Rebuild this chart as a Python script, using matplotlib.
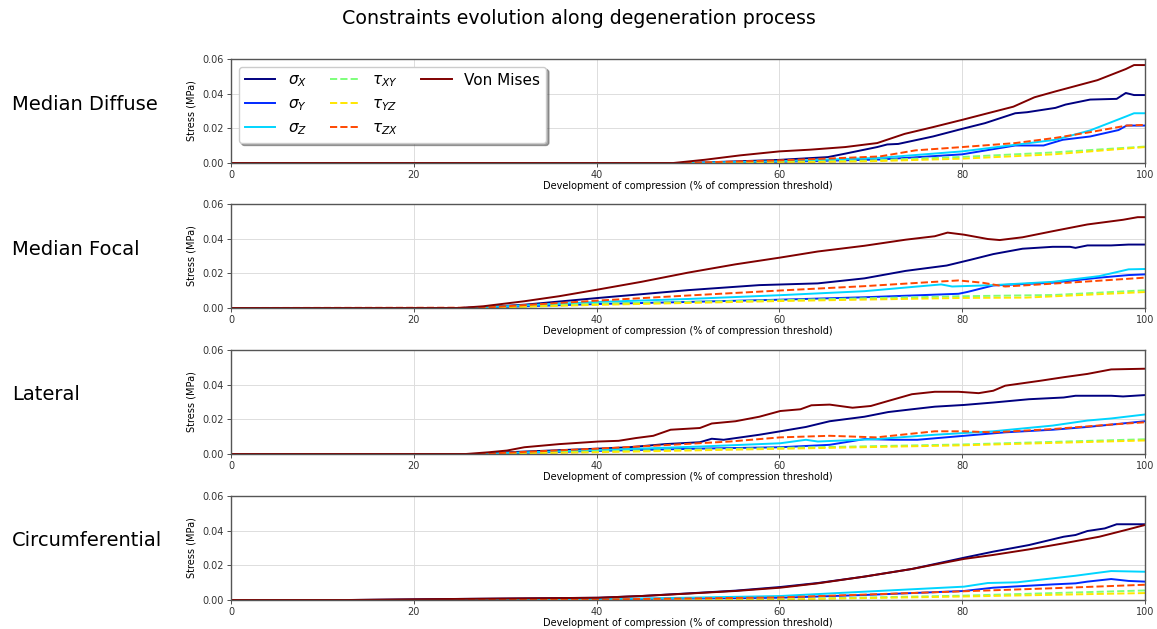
import matplotlib
matplotlib.use("Agg")
import matplotlib.pyplot as plt
from matplotlib.lines import Line2D
import numpy as np

# (x, stress) points, x in % of compression threshold
diffuse_sx = [(0, 0), (50, 0), (60, 0.0018), (65.3, 0.0034), (67.2, 0.0054), (70.7, 0.0092), (71.8, 0.0107),
              (73, 0.011), (76.8, 0.0153), (80, 0.0197), (82.5, 0.023), (85.8, 0.0287), (87.1, 0.0293),
              (90.2, 0.0318), (91.3, 0.0337), (94, 0.0366), (96.9, 0.037), (97.9, 0.0404), (98.8, 0.0392), (100, 0.0392)]
diffuse_sy = [(0, 0), (50, 0), (60, 0.0007), (71, 0.002), (80, 0.005), (85.8, 0.0101), (88.9, 0.0101),
              (91, 0.0134), (94, 0.0153), (97.1, 0.019), (98, 0.0216), (100, 0.0216)]
diffuse_sz = [(0, 0), (50, 0), (60, 0.001), (71, 0.003), (80, 0.0067), (85.8, 0.0105), (90.2, 0.0134),
              (94, 0.0188), (97.9, 0.0268), (98.8, 0.0287), (100, 0.0287)]
diffuse_txy = [(0, 0), (50, 0), (60, 0.0005), (70, 0.0015), (80, 0.0035), (90, 0.0061), (100, 0.0095)]
diffuse_tyz = [(0, 0), (50, 0), (60, 0.0003), (70, 0.001), (80, 0.0025), (90, 0.005), (100, 0.0092)]
diffuse_tzx = [(0, 0), (49, 0), (60, 0.0015), (65, 0.0025), (71, 0.0038), (74.9, 0.0073), (80, 0.0092),
               (85.8, 0.0115), (90.2, 0.0145), (94, 0.0178), (98, 0.0216), (100, 0.022)]
diffuse_vm = [(0, 0), (48.4, 0), (51.9, 0.0019), (55.7, 0.0044), (60, 0.0067), (63.4, 0.0077), (67.2, 0.0092),
              (70.7, 0.0115), (73.7, 0.0168), (76.8, 0.0207), (80, 0.0249), (82.5, 0.0283), (85.6, 0.0325),
              (87.9, 0.0379), (90.2, 0.0413), (94.8, 0.0478), (97.9, 0.0542), (98.8, 0.0565), (100, 0.0565)]

focal_sx = [(0, 0), (25, 0), (27.6, 0.0005), (32.1, 0.0019), (40.2, 0.0058), (50, 0.0103), (57.8, 0.0132),
            (64.2, 0.0142), (69.3, 0.0171), (73.8, 0.0214), (78.3, 0.0245), (80.9, 0.0278), (83.4, 0.0311),
            (86.6, 0.0342), (89.9, 0.0353), (91.8, 0.0353), (92.4, 0.0347), (93.7, 0.0361), (96.3, 0.0361),
            (98.2, 0.0366), (100, 0.0366)]
focal_sy = [(0, 0), (26, 0), (40.2, 0.0023), (50, 0.0035), (60.1, 0.0048), (69.3, 0.0062), (79.6, 0.0082),
            (80.6, 0.0093), (83.4, 0.013), (89.9, 0.0146), (95, 0.0175), (98.2, 0.019), (100, 0.0194)]
focal_sz = [(0, 0), (26, 0), (40.2, 0.0035), (50, 0.0052), (60.1, 0.0074), (69.3, 0.0097), (77.7, 0.0136),
            (78.9, 0.0124), (83.4, 0.0132), (89.9, 0.0151), (95, 0.0184), (98.2, 0.0223), (100, 0.0225)]
focal_txy = [(0, 0), (27, 0), (40, 0.0025), (60, 0.0045), (80, 0.0068), (90, 0.0075), (100, 0.0102)]
focal_tyz = [(0, 0), (27, 0), (40, 0.0018), (60, 0.004), (80, 0.0058), (87, 0.006), (100, 0.0092)]
focal_tzx = [(0, 0), (27.6, 0.0002), (40.2, 0.0043), (50, 0.0072), (60.1, 0.0101), (69.3, 0.0126), (77, 0.0151),
             (79.6, 0.0159), (82.2, 0.0146), (84.7, 0.0124), (87.3, 0.0132), (93.1, 0.0151), (100, 0.0175)]
focal_vm = [(0, 0), (25, 0), (27.6, 0.001), (32.1, 0.0039), (35.9, 0.0068), (40.2, 0.0107), (44.9, 0.0151),
            (50, 0.0204), (55.2, 0.0252), (60.1, 0.0291), (64.2, 0.0326), (69.3, 0.0359), (73.8, 0.0394),
            (77, 0.0414), (78.4, 0.0435), (80.2, 0.0423), (82.8, 0.0398), (84.1, 0.0392), (86.6, 0.0408),
            (89.9, 0.0443), (93.7, 0.0482), (97.6, 0.0509), (99.2, 0.0524), (100, 0.0524)]

lateral_sx = [(0, 0), (27, 0), (30.2, 0.001), (40.2, 0.0031), (43.6, 0.0039), (47.5, 0.0057), (51.3, 0.0068),
              (52.6, 0.0088), (53.9, 0.0082), (57.8, 0.0111), (60.1, 0.0131), (62.9, 0.0156), (65.5, 0.0189),
              (69.3, 0.0215), (71.9, 0.0242), (74.5, 0.0258), (77, 0.0273), (80.2, 0.0283), (83.4, 0.0297),
              (87.3, 0.0316), (91.1, 0.0326), (92.4, 0.0336), (96.3, 0.0336), (97.6, 0.0332), (100, 0.034)]
lateral_sy = [(0, 0), (27, 0), (40.2, 0.0018), (51.3, 0.0031), (60.1, 0.0039), (65.5, 0.0053), (69.3, 0.0086),
              (72.5, 0.0082), (75.1, 0.0082), (80.2, 0.0105), (84.7, 0.0125), (89.9, 0.014), (93.7, 0.0156),
              (100, 0.0189)]
lateral_sz = [(0, 0), (27, 0), (40.2, 0.0023), (51.3, 0.0043), (60.1, 0.0062), (62.9, 0.0082), (64.2, 0.0072),
              (70.6, 0.0086), (77, 0.0111), (83.4, 0.0131), (89.9, 0.0164), (93.7, 0.0193), (96.3, 0.0205),
              (100, 0.0228)]
lateral_txy = [(0, 0), (27, 0), (40, 0.0015), (60, 0.0035), (80, 0.0055), (100, 0.0085)]
lateral_tyz = [(0, 0), (27, 0), (40, 0.001), (60, 0.003), (80, 0.005), (100, 0.0078)]
lateral_tzx = [(0, 0), (27, 0), (40.2, 0.0031), (48.1, 0.0053), (54.6, 0.0072), (60.1, 0.0096), (65.5, 0.0105),
               (70.6, 0.0096), (77, 0.0131), (80.2, 0.0131), (83.4, 0.0125), (89.9, 0.0144), (96.3, 0.017),
               (100, 0.0183)]
lateral_vm = [(0, 0), (25.7, 0), (28.2, 0.001), (30.2, 0.002), (32.1, 0.0039), (35.9, 0.0057), (40.2, 0.0072),
              (42.4, 0.0076), (44.3, 0.0092), (46.2, 0.0105), (48.1, 0.014), (51.3, 0.015), (52.6, 0.0176),
              (55.2, 0.0189), (57.8, 0.0215), (60.1, 0.0248), (62.3, 0.0258), (63.5, 0.0281), (65.5, 0.0285),
              (68, 0.0267), (70, 0.0277), (71.9, 0.0306), (74.5, 0.0345), (77, 0.0359), (79.6, 0.0359),
              (81.8, 0.0351), (83.4, 0.0365), (84.7, 0.0394), (88.6, 0.0423), (91.1, 0.0443), (93.7, 0.0462),
              (96.3, 0.0488), (100, 0.0492)]

circ_sx = [(0, 0), (13, 0), (20.2, 0.0004), (40.2, 0.0013), (44.9, 0.0023), (50, 0.0038), (55.2, 0.0054),
           (60.1, 0.0075), (64.2, 0.0098), (69.3, 0.0135), (74.5, 0.0179), (80.2, 0.0244), (83.4, 0.0279),
           (87.3, 0.0317), (91.1, 0.0365), (92.4, 0.0375), (93.7, 0.0398), (95.6, 0.0413), (96.9, 0.0437),
           (100, 0.0437)]
circ_sy = [(0, 0), (30, 0), (60.1, 0.0013), (69.3, 0.0029), (80.2, 0.0052), (83.4, 0.0071), (89.9, 0.009),
           (92.4, 0.0096), (93.7, 0.0106), (96.3, 0.0121), (98.2, 0.011), (100, 0.0106)]
circ_sz = [(0, 0), (30, 0), (40.2, 0.0004), (60.1, 0.0023), (69.3, 0.0048), (80.2, 0.0077), (82.8, 0.0098),
           (86, 0.0102), (89.9, 0.0125), (92.4, 0.014), (94.4, 0.0154), (96.3, 0.0167), (100, 0.0163)]
circ_txy = [(0, 0), (40, 0), (60, 0.0005), (80, 0.0025), (100, 0.0055)]
circ_tyz = [(0, 0), (40, 0), (60, 0.0003), (80, 0.002), (100, 0.004)]
circ_tzx = [(0, 0), (35, 0), (60, 0.0015), (80, 0.005), (90, 0.0068), (100, 0.0088)]
circ_vm = [(0, 0), (12.8, 0), (20.2, 0.0004), (40.2, 0.0013), (44.9, 0.0023), (50, 0.0037), (55.2, 0.0052),
           (60.1, 0.0071), (64.2, 0.0096), (69.3, 0.0135), (74.5, 0.0179), (80.2, 0.0237), (83.4, 0.026),
           (87.3, 0.0292), (91.1, 0.0327), (95, 0.0365), (98.2, 0.0408), (100, 0.0433)]

rows = ["Median Diffuse", "Median Focal", "Lateral", "Circumferential"]
panels = [
    [diffuse_sx, diffuse_sy, diffuse_sz, diffuse_txy, diffuse_tyz, diffuse_tzx, diffuse_vm],
    [focal_sx, focal_sy, focal_sz, focal_txy, focal_tyz, focal_tzx, focal_vm],
    [lateral_sx, lateral_sy, lateral_sz, lateral_txy, lateral_tyz, lateral_tzx, lateral_vm],
    [circ_sx, circ_sy, circ_sz, circ_txy, circ_tyz, circ_tzx, circ_vm],
]
labels = [r"$\sigma_X$", r"$\sigma_Y$", r"$\sigma_Z$", r"$\tau_{XY}$", r"$\tau_{YZ}$", r"$\tau_{ZX}$", "Von Mises"]
styles = ["-", "-", "-", "--", "--", "--", "-"]
colors = plt.cm.jet(np.linspace(0, 1, 7))

fig = plt.figure(figsize=(11.57, 6.29), dpi=100)
fig.suptitle("Constraints evolution along degeneration process", x=0.5, y=0.985, fontsize=13.7)

tops = [59, 204, 350, 496]
for i, (name, series) in enumerate(zip(rows, panels)):
    top = 1 - tops[i] / 629
    ax = fig.add_axes([231 / 1157, top - 104 / 629, 914 / 1157, 104 / 629])
    handles = []
    for pts, lab, ls, c in zip(series, labels, styles, colors):
        xs, ys = zip(*pts)
        h, = ax.plot(xs, ys, ls, color=c, lw=1.4, label=lab)
        handles.append(h)
    ax.set_xlim(0, 100)
    ax.set_ylim(0, 0.06)
    ax.set_xticks([0, 20, 40, 60, 80, 100])
    ax.set_yticks([0, 0.02, 0.04, 0.06])
    ax.yaxis.set_major_formatter(matplotlib.ticker.FormatStrFormatter('%.2f'))
    ax.tick_params(labelsize=7, length=3, width=0.6, pad=2, colors='#333333')
    ax.grid(True, color='#dddddd', lw=0.7)
    for s in ax.spines.values():
        s.set_color('#555555')
        s.set_linewidth(1.0)
    ax.set_ylabel("Stress (MPa)", fontsize=7, labelpad=4)
    ax.set_xlabel("Development of compression (% of compression threshold)", fontsize=7, labelpad=1)
    fig.text(12 / 1157, top - 45 / 629, name, fontsize=14, va='center', ha='left')
    if i == 0:
        blank = Line2D([], [], color='none')
        ax.legend(handles + [blank, blank], labels + ["", ""], loc='upper left', ncol=3, fontsize=11,
                  shadow=True, fancybox=True, framealpha=1, handlelength=2.0, labelspacing=0.45,
                  columnspacing=1.5)

fig.savefig("out.png", dpi=100)
